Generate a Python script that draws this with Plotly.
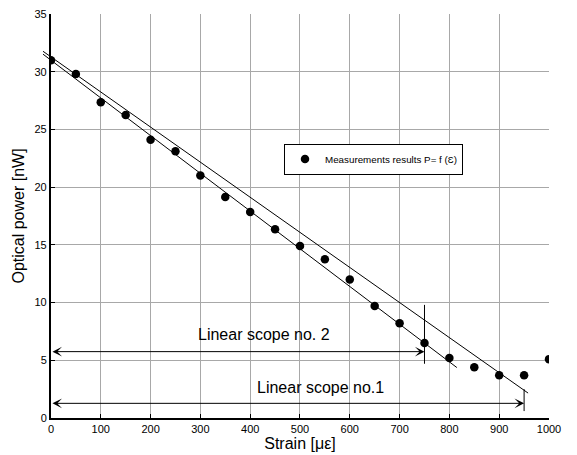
import plotly.graph_objects as go

# ---- data ----
strain = [0, 50, 100, 150, 200, 250, 300, 350, 400, 450, 500,
          550, 600, 650, 700, 750, 800, 850, 900, 950, 1000]
power = [31.0, 29.8, 27.35, 26.25, 24.1, 23.1, 21.0, 19.15, 17.85, 16.35, 14.9,
         13.75, 12.0, 9.7, 8.2, 6.5, 5.2, 4.4, 3.7, 3.7, 5.1]

# fitted straight lines (end points)
fit1_x = [-16, 958]
fit1_y = [31.77, 2.16]
fit2_x = [-16, 815]
fit2_y = [31.52, 4.37]

# limit markers of the linear scopes
limit_x = [950, 750]
limit_y0 = [0.6, 4.7]
limit_y1 = [2.5, 9.8]

# scope arrows
arrow_y = [1.27, 5.75]
arrow_labels = ["Linear scope no.1", "Linear scope no. 2"]
label_x = [542, 428]
label_y = [2.65, 7.2]

x_ticks = list(range(0, 1001, 100))
y_ticks = list(range(0, 36, 5))

FONT = "Liberation Sans, Arial, sans-serif"

fig = go.Figure()

# fitted lines on a hidden overlay subplot that extends a bit left of the axis
for fx, fy in [(fit1_x, fit1_y), (fit2_x, fit2_y)]:
    fig.add_trace(go.Scatter(x=fx, y=fy, mode="lines", xaxis="x2", yaxis="y2",
                             line=dict(color="black", width=1), showlegend=False,
                             hoverinfo="skip"))

# limit vertical lines
for lx, a, b in zip(limit_x, limit_y0, limit_y1):
    fig.add_trace(go.Scatter(x=[lx, lx], y=[a, b], mode="lines",
                             line=dict(color="black", width=1), showlegend=False,
                             hoverinfo="skip", cliponaxis=False))

# measurement points
fig.add_trace(go.Scatter(x=strain, y=power, mode="markers",
                         marker=dict(color="black", size=8.5),
                         name="Measurements results P= f (Ɛ)", showlegend=True))

annotations = []
for lx, ay in zip(limit_x, arrow_y):
    annotations.append(dict(x=lx, y=ay, ax=0, ay=ay, xref="x", yref="y",
                            axref="x", ayref="y", text="", showarrow=True,
                            arrowhead=3, startarrowhead=3, arrowside="end+start",
                            arrowsize=1.6, startarrowsize=1.6, arrowwidth=1,
                            arrowcolor="black", standoff=0, startstandoff=0))
for t, tx, ty in zip(arrow_labels, label_x, label_y):
    annotations.append(dict(x=tx, y=ty, xref="x", yref="y", text=t,
                            showarrow=False, font=dict(size=16, color="black", family=FONT)))

# page has an 8px body margin; plot area target: x 41..549, y 14..418 in window pixels
OFF = 8
W, H = 577 - OFF, 455 - OFF
PL, PR, PT, PB = 41, 549, 14, 418
L, R, T, B = PL - OFF, (W + OFF) - PR, PT - OFF, (H + OFF) - PB
xmin2 = -20
dom0 = (0 - xmin2) / (1000 - xmin2)

fig.update_layout(
    width=W, height=H,
    margin=dict(l=L, r=R, t=T, b=B, autoexpand=False),
    paper_bgcolor="white", plot_bgcolor="rgba(0,0,0,0)",
    font=dict(family=FONT, color="black", size=11),
    showlegend=True,
    legend=dict(x=(284 - PL) / (PR - PL), y=1 - (159 - PT) / (PB - PT),
                xanchor="left", yanchor="middle",
                bordercolor="black", borderwidth=1, bgcolor="white",
                font=dict(size=9.8, family=FONT, color="black")),
    xaxis=dict(domain=[dom0, 1], range=[0, 1000], tickvals=x_ticks,
               showgrid=True, gridcolor="#a8a8a8", gridwidth=1, automargin=False,
               zeroline=False, showline=True, linecolor="black", linewidth=2,
               ticks="inside", ticklen=4, tickcolor="black",
               ticklabeloverflow="allow",
               tickfont=dict(size=11), anchor="y",
               title=dict(text="Strain [με]", font=dict(size=16), standoff=4)),
    yaxis=dict(domain=[0, 1], range=[0, 35], tickvals=y_ticks,
               showgrid=True, gridcolor="#a8a8a8", gridwidth=1, automargin=False,
               zeroline=False, showline=True, linecolor="black", linewidth=2,
               ticks="inside", ticklen=4, tickcolor="black",
               ticklabeloverflow="allow",
               tickfont=dict(size=11), anchor="x",
               title=dict(text="Optical power [nW]", font=dict(size=16), standoff=6)),
    xaxis2=dict(domain=[0, 1], range=[xmin2, 1000], visible=False, anchor="y2",
                automargin=False),
    yaxis2=dict(domain=[0, 1], range=[0, 35], visible=False, anchor="x2",
                automargin=False),
    annotations=annotations,
)

fig.write_html("out.html")
